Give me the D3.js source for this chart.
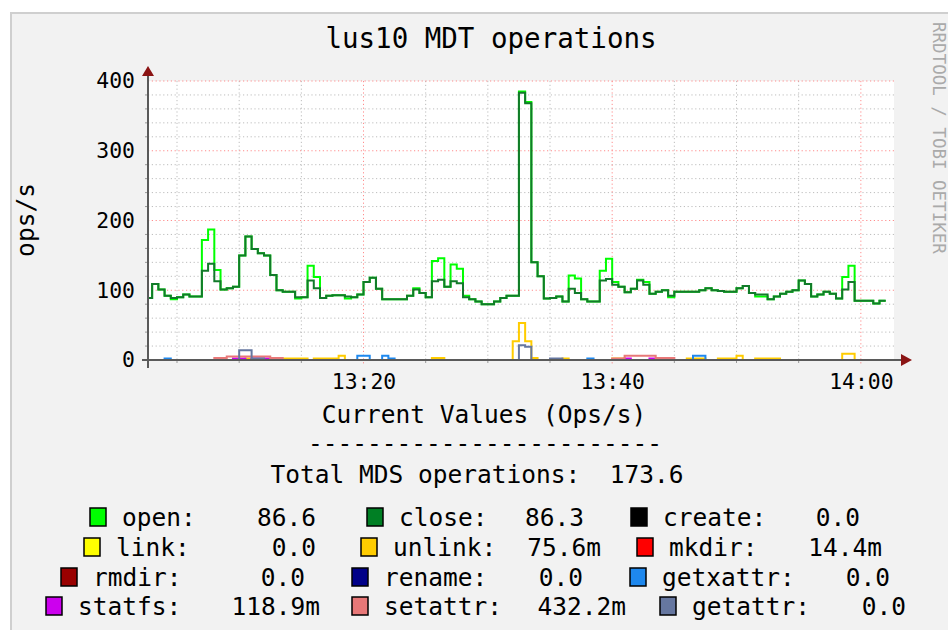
<!DOCTYPE html>
<html>
<head>
<meta charset="utf-8">
<script src="https://cdn.jsdelivr.net/npm/d3@7"></script>
<style>
  body { margin: 0; background: #fff; }
  svg text { font-family: "DejaVu Sans Mono", monospace; white-space: pre; }
</style>
</head>
<body>
<svg id="chart" width="948" height="630"></svg>
<script>
// 30 second samples, first one at 13:02:30
const seriesStart = new Date(2024, 0, 1, 13, 2, 30);
const stepSeconds = 30;

const openOps = [89,109,101,92,87,90,94,91,91,172, 187,129,101,103,105,150,177,159,153,150,
  122,100,98,98,88,90,135,119,89,92, 93,93,88,90,94,112,118,102,87,87,
  87,87,92,103,96,90,142,146,105,137, 131,92,87,84,80,80,84,89,92,92,
  385,370,140,120,88,89,91,84,121,117, 87,84,84,128,145,112,105,97,102,115,
  112,95,98,100,90,98,98,98,98,100, 103,100,99,98,98,103,106,96,91,91,
  87,91,95,98,100,114,109,91,94,98, 95,88,119,135,85,85,85,81,85];

const closeOps = [89,109,101,92,89,90,94,91,91,128, 138,113,101,103,105,150,177,159,153,150,
  122,100,98,98,90,90,114,103,89,92, 93,93,91,90,94,112,118,102,87,87,
  87,87,92,101,96,90,113,115,105,113, 110,90,87,84,80,80,84,89,92,92,
  383,368,140,120,88,89,91,84,102,96, 87,84,84,114,116,108,105,97,102,114,
  108,95,98,100,92,98,98,98,98,100, 103,100,99,98,98,103,106,96,94,94,
  87,91,95,98,100,114,109,91,94,98, 95,88,101,112,85,85,85,81,85];

// the small series are mostly zero: [first sample, last sample, ops/s]
const unlinkRuns = [[16,16,2],[22,25,2],[27,30,2],[31,31,6],[46,47,3],[59,59,27],[60,60,53],[61,61,27],
  [62,62,3],[67,67,2],[75,76,2],[87,89,2],[92,94,2],[95,95,6],[98,101,2],[112,113,9]];
const getxattrRuns = [[3,3,2],[17,18,1.5],[34,35,6],[38,38,6],[39,39,2],[71,71,2],[88,89,6]];
const statfsRuns = [[14,15,2],[17,19,2],[77,77,2],[81,81,2]];
const setattrRuns = [[11,12,3],[13,19,5],[20,21,3],[75,76,2],[77,81,6],[82,84,3]];
const getattrRuns = [[15,16,14],[17,18,2],[60,60,21],[61,61,19],[65,66,2]];

const legendNames = ['open', 'close', 'create', 'link', 'unlink', 'mkdir', 'rmdir', 'rename', 'getxattr', 'statfs', 'setattr', 'getattr'];
const legendColors = ['#00FF00', '#007F24', '#000000', '#FFFF00', '#FFCC00', '#FF0000', '#990000', '#000088', '#1E88EE', '#CC00EE', '#E87878', '#6677A0'];
const legendValues = ['86.6', '86.3', '0.0', '0.0', '75.6m', '14.4m', '0.0', '0.0', '0.0', '118.9m', '432.2m', '0.0'];
const totalOps = '173.6';

const yTicks = [0, 100, 200, 300, 400];
const xLabelTimes = [new Date(2024, 0, 1, 13, 20), new Date(2024, 0, 1, 13, 40), new Date(2024, 0, 1, 14, 0)];

// legend layout: three items per row
const legendRowsY = [526, 556, 586, 615];
const legendSwatchX = [90, 367, 631, 84, 361, 637, 61, 352, 630, 46, 352, 660];
const legendValueX = [316, 584, 860, 316, 601, 882, 305, 583, 890, 320, 626, 906];

const svg = d3.select('#chart');
const plot = {left: 148, right: 894, top: 81, bottom: 360};

const x = d3.scaleTime()
  .domain([new Date(2024, 0, 1, 13, 2, 40), new Date(2024, 0, 1, 14, 2, 40)])
  .range([plot.left, plot.right]);
const y = d3.scaleLinear().domain([0, 400]).range([plot.bottom, plot.top]);

// frame
svg.append('rect').attr('width', 948).attr('height', 630).attr('fill', '#ffffff');
svg.append('rect').attr('x', 10).attr('y', 12).attr('width', 938).attr('height', 618).attr('fill', '#F2F2F2');
svg.append('path').attr('d', 'M11,630V13H948').attr('fill', 'none').attr('stroke', '#CFCFCF').attr('stroke-width', 2);
svg.append('rect').attr('x', plot.left).attr('y', plot.top)
  .attr('width', plot.right - plot.left).attr('height', plot.bottom - plot.top).attr('fill', '#ffffff');

// grid
const minorY = y.ticks(20).filter((d) => d % 100 !== 0);
const minutes5 = d3.timeMinute.every(5).range(x.domain()[0], x.domain()[1]);
const minorX = minutes5.filter((d) => d.getMinutes() % 20 !== 0);
const majorX = minutes5.filter((d) => d.getMinutes() % 20 === 0);
const grid = svg.append('g');
const dots = '1.2,2.6';

grid.selectAll('.minor-h').data(minorY).join('line')
  .attr('x1', plot.left).attr('x2', plot.right).attr('y1', (d) => y(d)).attr('y2', (d) => y(d))
  .attr('stroke', '#BDBDBD').attr('stroke-dasharray', dots);
grid.selectAll('.minor-v').data(minorX).join('line')
  .attr('x1', (d) => x(d)).attr('x2', (d) => x(d)).attr('y1', plot.top).attr('y2', plot.bottom)
  .attr('stroke', '#BDBDBD').attr('stroke-dasharray', dots);
grid.selectAll('.major-h').data(yTicks.filter((d) => d > 0)).join('line')
  .attr('x1', plot.left).attr('x2', plot.right).attr('y1', (d) => y(d)).attr('y2', (d) => y(d))
  .attr('stroke', '#FF7070').attr('stroke-opacity', 0.8).attr('stroke-dasharray', dots);
grid.selectAll('.major-v').data(majorX).join('line')
  .attr('x1', (d) => x(d)).attr('x2', (d) => x(d)).attr('y1', plot.top).attr('y2', plot.bottom + 5)
  .attr('stroke', '#FF7070').attr('stroke-opacity', 0.8).attr('stroke-dasharray', dots);

// small tick marks on the axes
grid.selectAll('.tick-y').data(minorY).join('line')
  .attr('x1', plot.left - 3).attr('x2', plot.left).attr('y1', (d) => y(d)).attr('y2', (d) => y(d))
  .attr('stroke', '#999');
grid.selectAll('.tick-x').data(minorX).join('line')
  .attr('x1', (d) => x(d)).attr('x2', (d) => x(d)).attr('y1', plot.bottom).attr('y2', plot.bottom + 3)
  .attr('stroke', '#999');

// series
const stepTime = (i) => d3.timeSecond.offset(seriesStart, i * stepSeconds);
const fromRuns = (runs) => {
  const values = openOps.map(() => 0);
  runs.forEach(([a, b, v]) => { for (let i = a; i <= b; i++) values[i] = v; });
  return values;
};
const seriesValues = [openOps, closeOps, [], [], fromRuns(unlinkRuns), [], [], [], fromRuns(getxattrRuns),
  fromRuns(statfsRuns), fromRuns(setattrRuns), fromRuns(getattrRuns)];

svg.append('clipPath').attr('id', 'plot-clip').append('rect')
  .attr('x', plot.left).attr('y', plot.top - 10).attr('width', plot.right - plot.left).attr('height', plot.bottom - plot.top + 10);

const line = d3.line()
  .x((d) => x(d.t))
  .y((d) => y(d.v))
  .curve(d3.curveStepAfter);

const seriesG = svg.append('g').attr('clip-path', 'url(#plot-clip)');
seriesValues.forEach((vals, k) => {
  if (!vals.length) return;
  const pts = vals.map((v, i) => ({t: stepTime(i), v: v}));
  pts.push({t: stepTime(vals.length), v: vals[vals.length - 1]});
  seriesG.append('path')
    .attr('d', line(pts))
    .attr('fill', 'none')
    .attr('stroke', k === 1 ? '#127A2A' : legendColors[k])
    .attr('stroke-width', 2);
});

// axes
const axisColor = '#5A5A5A';
svg.append('line').attr('x1', plot.left).attr('x2', plot.left).attr('y1', plot.bottom + 8).attr('y2', 76)
  .attr('stroke', axisColor).attr('stroke-width', 2);
svg.append('line').attr('x1', plot.left - 6).attr('x2', 901).attr('y1', plot.bottom).attr('y2', plot.bottom)
  .attr('stroke', axisColor).attr('stroke-width', 2);
svg.append('path').attr('d', `M${plot.left - 6},76L${plot.left + 6},76L${plot.left},66Z`).attr('fill', '#8B1414');
svg.append('path').attr('d', `M901,${plot.bottom - 6}L901,${plot.bottom + 6}L912,${plot.bottom}Z`).attr('fill', '#8B1414');

const yAxisG = svg.append('g').attr('transform', `translate(${plot.left},0)`)
  .call(d3.axisLeft(y).tickValues(yTicks).tickSize(0).tickPadding(13));
const xAxisG = svg.append('g').attr('transform', `translate(0,${plot.bottom})`)
  .call(d3.axisBottom(x).tickValues(xLabelTimes).tickFormat(d3.timeFormat('%H:%M')).tickSize(0).tickPadding(14));
[yAxisG, xAxisG].forEach((g) => {
  g.select('.domain').remove();
  g.attr('font-family', null).attr('font-size', null);
  g.selectAll('text').attr('font-size', 21.4).attr('fill', '#000');
});

// titles
svg.append('text').attr('x', 491).attr('y', 48).attr('text-anchor', 'middle')
  .attr('font-size', 27.5).attr('fill', '#000').text('lus10 MDT operations');
svg.append('text').attr('transform', 'translate(34,220) rotate(-90)').attr('text-anchor', 'middle')
  .attr('font-size', 24.5).attr('fill', '#000').text('ops/s');
svg.append('text').attr('transform', 'translate(933,22) rotate(90)')
  .attr('font-size', 17.5).attr('fill', '#AAAAAA').text('RRDTOOL / TOBI OETIKER');

// legend
const textBlock = [['Current Values (Ops/s)', 423, 484], ['------------------------', 452, 485],
  [`Total MDS operations:  ${totalOps}`, 483, 477]];
svg.selectAll('.legend-head').data(textBlock).join('text')
  .attr('x', (d) => d[2]).attr('y', (d) => d[1]).attr('text-anchor', 'middle')
  .attr('font-size', 24.5).attr('fill', '#000').text((d) => d[0]);

const items = svg.selectAll('.legend-item').data(legendNames).join('g')
  .attr('transform', (d, i) => `translate(0,${legendRowsY[Math.floor(i / 3)]})`);
items.append('rect')
  .attr('x', (d, i) => legendSwatchX[i]).attr('y', -18).attr('width', 16).attr('height', 18)
  .attr('fill', (d, i) => legendColors[i]).attr('stroke', '#000').attr('stroke-width', 1.5);
items.append('text')
  .attr('x', (d, i) => legendSwatchX[i] + 32).attr('font-size', 24.5).attr('fill', '#000')
  .text((d) => d + ':');
items.append('text')
  .attr('x', (d, i) => legendValueX[i]).attr('text-anchor', 'end').attr('font-size', 24.5).attr('fill', '#000')
  .text((d, i) => legendValues[i]);
</script>
</body>
</html>
